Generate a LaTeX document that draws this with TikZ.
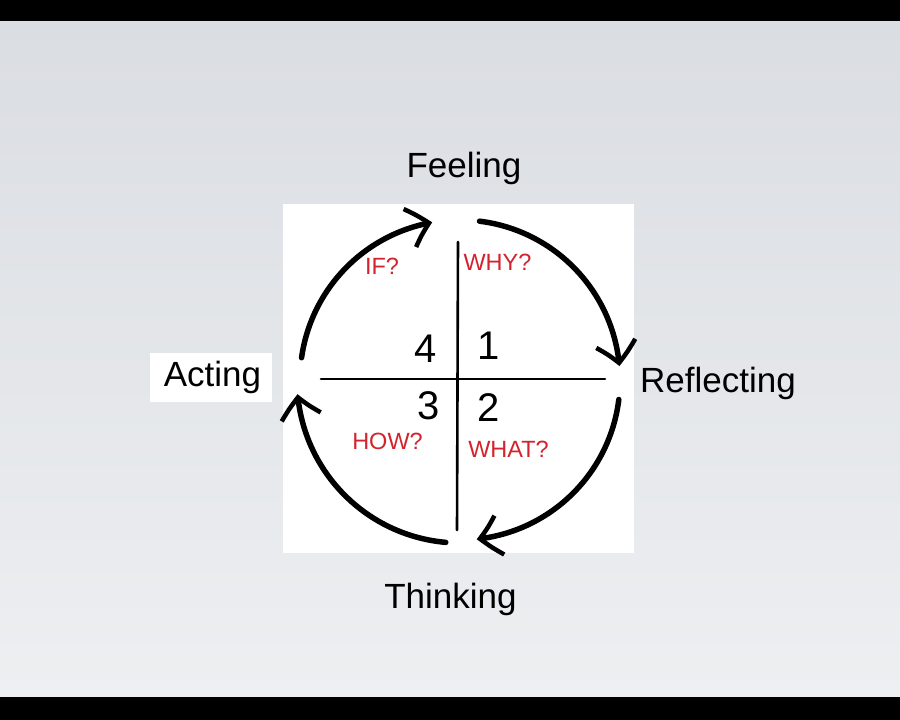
\documentclass[tikz,border=0pt]{standalone}
\usepackage{fontspec}
\setmainfont{Liberation Sans}
\usetikzlibrary{arrows.meta,bending}
\definecolor{bgtop}{RGB}{218,221,226}
\definecolor{bgbot}{RGB}{237,239,241}
\definecolor{qred}{RGB}{210,36,46}
\begin{document}
\begin{tikzpicture}[x=1pt,y=1pt,
  biglabel/.style={inner sep=0pt,anchor=base,font=\fontsize{35}{40}\selectfont},
  qlabel/.style={inner sep=0pt,anchor=base,text=qred,font=\fontsize{23.5}{28}\selectfont},
  digit/.style={inner sep=0pt,anchor=base,font=\fontsize{40}{44}\selectfont},
  crossline/.style={line width=2.6pt,line cap=round},
  cycarrow/.style={line width=5.5pt,line cap=round,
    -{Straight Barb[length=20pt,width=40pt,line width=4.5pt,bend]}}]
\useasboundingbox (0,0) rectangle (900,720);
% frame and background
\fill[black] (0,0) rectangle (900,720);
\shade[top color=bgtop,bottom color=bgbot] (0,23) rectangle (900,698);
% white panels
\fill[white] (283,167) rectangle (634,516);
\fill[white] (150,318) rectangle (272,367);
% outer labels
\node[biglabel] (feel) at (464,542) {Feeling};
\node[biglabel] (act) at (212.5,333) {Acting};
\node[biglabel] (refl) at (718,327) {Reflecting};
\node[biglabel] (think) at (450.5,111) {Thinking};
% cross
\coordinate (vt) at (458,478);
\coordinate (vb) at (457,190);
\coordinate (hl) at (321,341);
\coordinate (hr) at (605,341);
\draw[crossline] (vt) -- (vb);
\draw[crossline] (hl) -- (hr);
% quadrant numbers
\node[digit] (n4) at (426,357) {4};
\node[digit] (n1) at (489,360) {1};
\node[digit] (n3) at (429,300) {3};
\node[digit] (n2) at (489,298) {2};
% questions
\node[qlabel] (qif) at (382,445) {IF?};
\node[qlabel] (qwhy) at (497.5,449) {WHY?};
\node[qlabel] (qhow) at (387.5,270) {HOW?};
\node[qlabel] (qwhat) at (508.5,262) {WHAT?};
% cycle arrows
\coordinate (O) at (460,340);
\draw[cycarrow] ([shift={(172:160)}]O) arc[start angle=172,end angle=100,radius=160];
\draw[cycarrow] ([shift={(83:160)}]O) arc[start angle=83,end angle=5,radius=160];
\draw[cycarrow] ([shift={(-7:160)}]O) arc[start angle=-7,end angle=-84,radius=160];
\draw[cycarrow] ([shift={(-95:163)}]O) arc[start angle=-95,end angle=-175,radius=163];
\end{tikzpicture}
\end{document}
